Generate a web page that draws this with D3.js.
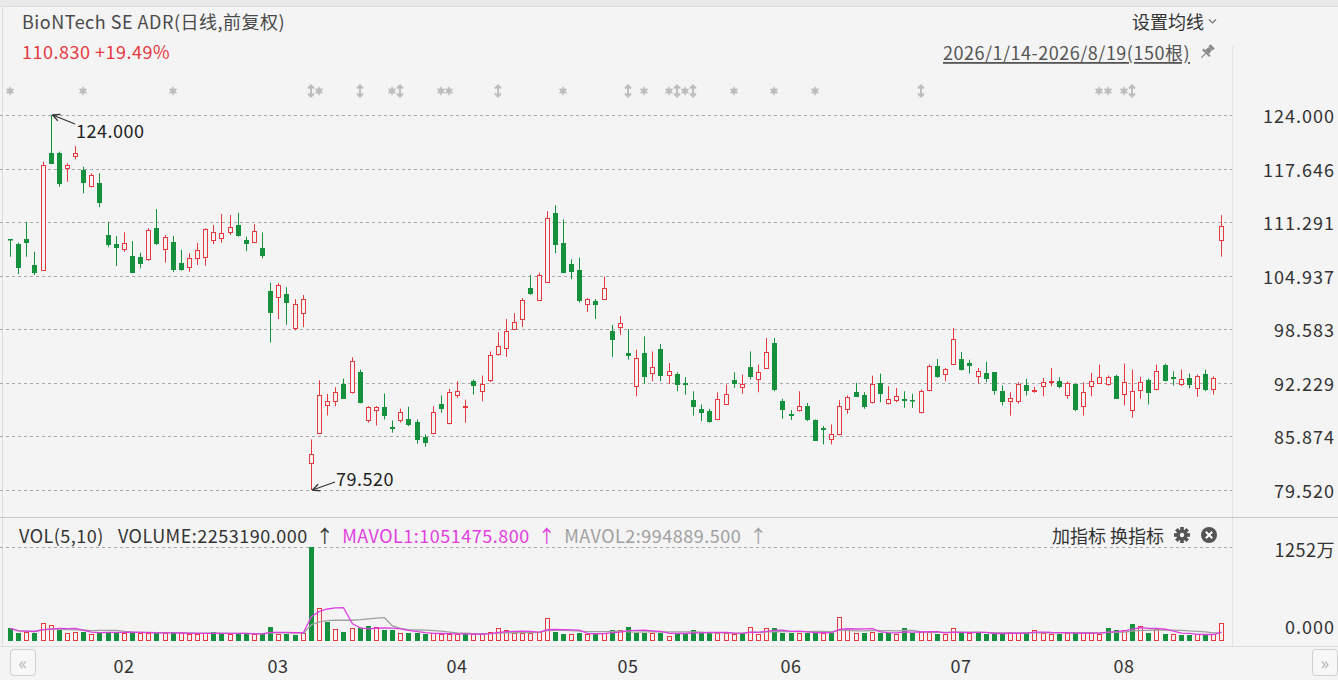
<!DOCTYPE html>
<html>
<head>
<meta charset="utf-8">
<script src="https://cdn.jsdelivr.net/npm/d3@7"></script>
<style>
html, body { margin: 0; padding: 0; background: #f4f4f4; }
svg { display: block; font-family: "Noto Sans CJK SC", "Noto Sans", sans-serif; }
svg text { letter-spacing: 0.5px; }
</style>
</head>
<body>
<svg id="chart" width="1338" height="680"></svg>
<script>
// daily bars, 2026/1/14 - 2026/8/19
var open = [109.30,108.70,109.26,106.21,105.61,119.53,119.53,117.75,119.14,117.48,
  115.58,115.97,109.77,108.70,108.10,107.31,107.19,106.88,110.56,108.10,
  108.97,106.41,106.00,107.07,107.11,109.17,109.37,110.09,110.95,109.17,
  108.96,108.18,103.17,102.46,102.78,98.73,100.50,82.77,86.32,89.66,
  90.05,92.11,91.12,93.48,87.81,89.00,89.34,86.98,87.81,87.89,
  87.57,85.84,86.32,89.78,87.50,90.73,89.36,92.42,91.23,92.62,
  95.69,96.36,98.65,99.79,103.53,102.07,104.24,112.40,108.85,106.30,
  105.62,101.60,101.99,102.19,98.41,98.85,95.77,91.83,95.77,93.41,
  96.25,93.21,93.33,92.25,90.25,89.15,88.87,87.89,89.78,92.53,
  91.75,94.12,92.70,94.00,96.95,90.05,88.50,88.95,89.54,87.77,
  86.83,85.61,86.20,89.15,91.12,90.73,89.93,92.23,89.86,90.25,
  90.32,90.25,88.75,91.43,94.27,93.29,94.47,95.06,94.59,93.09,
  93.41,93.48,91.32,90.05,90.05,92.03,91.23,91.83,92.30,92.42,
  90.73,92.11,89.46,91.91,92.25,92.11,93.09,90.93,88.95,91.43,
  92.62,91.52,94.31,92.95,92.11,92.82,91.64,93.29,91.52,109.17];
var high = [109.30,108.85,111.34,107.78,118.46,124.00,119.65,118.27,120.32,117.87,
  117.08,117.08,111.34,109.65,110.09,109.05,107.67,110.56,112.85,109.77,
  109.65,107.99,107.60,108.85,110.56,110.95,112.26,112.14,112.41,109.56,
  111.06,110.08,104.12,104.05,103.57,102.16,102.66,85.52,92.53,90.93,
  91.71,92.74,95.26,93.80,89.46,89.46,90.96,87.77,89.17,89.39,
  87.89,86.12,89.46,90.73,91.50,92.42,90.25,92.62,93.09,95.96,
  98.21,99.79,100.50,102.27,105.03,105.31,112.59,113.30,111.61,106.88,
  107.07,102.27,102.16,104.83,99.12,100.18,98.61,96.16,97.74,95.96,
  96.84,94.59,93.48,92.89,91.23,89.66,89.15,91.12,92.03,93.48,
  93.21,95.96,94.39,97.55,97.55,90.34,89.00,91.23,89.86,87.89,
  87.10,87.30,90.17,90.73,92.23,91.12,93.09,93.33,91.83,91.63,
  91.23,90.93,91.44,94.39,95.06,94.00,98.73,95.89,94.98,94.00,
  94.71,93.48,91.91,91.12,92.30,92.70,91.75,92.82,94.00,92.90,
  92.40,92.11,92.30,93.41,94.39,93.10,93.20,94.51,93.80,92.94,
  92.74,94.39,94.50,93.60,93.80,93.33,93.20,93.80,93.00,112.12];
var low = [107.19,105.14,107.19,105.02,105.50,118.20,115.50,116.09,118.75,114.71,
  115.40,113.05,108.31,106.09,107.78,105.41,105.81,106.70,108.58,106.48,
  105.37,105.53,105.41,106.21,106.13,108.70,108.85,109.77,109.57,107.84,
  108.85,107.00,97.03,99.79,99.12,98.45,98.85,79.52,86.12,88.36,
  89.46,90.34,90.96,89.80,87.50,87.18,87.89,86.32,87.50,87.10,
  85.02,84.66,86.12,88.68,87.30,90.45,87.50,90.84,90.05,92.30,
  95.45,95.30,98.53,98.85,102.67,102.00,104.12,107.60,105.23,104.52,
  101.75,100.62,99.79,102.16,95.30,97.94,94.98,90.64,92.11,92.42,
  92.42,92.11,91.23,90.84,88.36,87.69,87.50,87.81,89.58,91.64,
  90.93,92.62,91.12,93.88,91.23,87.97,87.81,88.83,87.69,85.33,
  84.93,84.93,86.00,88.56,90.57,89.15,89.78,89.93,89.66,89.93,
  89.27,89.27,88.60,91.23,92.82,92.42,94.39,93.69,93.33,92.14,
  92.30,90.84,89.54,88.34,89.78,90.73,91.05,90.64,91.83,91.60,
  90.34,88.87,88.36,90.64,92.14,91.90,90.34,89.54,88.09,90.34,
  89.66,91.35,92.40,91.90,91.83,91.55,90.57,91.23,90.84,107.19];
var close = [109.26,106.00,108.97,105.41,118.07,118.34,115.90,118.07,119.46,116.09,
  116.88,113.72,108.70,108.31,108.85,105.41,106.48,110.36,108.78,109.49,
  105.73,105.73,107.07,107.99,110.48,110.09,109.97,110.75,109.77,108.85,
  110.26,107.39,100.69,103.85,101.87,101.60,102.16,83.83,90.76,90.13,
  91.12,90.45,94.86,89.93,89.34,89.39,88.36,86.83,88.80,87.30,
  85.52,85.25,88.80,89.27,91.12,91.32,89.46,92.03,92.10,95.57,
  96.55,98.33,99.39,102.07,102.94,105.03,111.73,108.66,105.42,105.50,
  102.07,102.16,101.56,103.53,97.43,99.32,95.49,95.18,93.01,94.12,
  93.21,93.60,92.14,92.11,89.46,88.83,87.69,90.37,90.93,92.23,
  92.14,93.01,93.48,95.84,91.52,89.07,88.40,89.54,87.97,85.41,
  86.71,86.12,89.46,90.57,90.64,89.46,92.14,91.04,90.34,90.64,
  90.25,90.17,91.32,94.27,93.01,93.88,97.46,93.88,94.39,93.60,
  92.82,91.43,90.05,90.45,92.11,91.43,91.43,92.30,92.46,91.83,
  92.25,89.07,91.16,92.42,92.94,92.90,90.45,92.30,91.32,92.30,
  91.12,93.60,92.62,92.75,92.70,92.11,93.09,91.52,92.75,110.83];
var volume = [1550000,930000,1100000,1000000,2350000,2000000,1400000,930000,1100000,1100000,
  800000,1100000,1100000,1100000,1000000,930000,1000000,1000000,900000,900000,
  1000000,900000,800000,800000,900000,1100000,900000,800000,800000,850000,
  800000,850000,1780000,800000,850000,700000,900000,12520000,4300000,2450000,
  1450000,1100000,1550000,1550000,1900000,1800000,1400000,1400000,930000,930000,
  930000,800000,930000,800000,800000,800000,800000,800000,800000,1100000,
  1550000,1400000,930000,930000,930000,1100000,3000000,1100000,800000,800000,
  1000000,800000,800000,930000,1400000,1400000,1800000,1000000,1000000,1000000,
  930000,580000,930000,930000,1400000,930000,930000,1000000,930000,800000,
  800000,1800000,800000,1550000,1550000,1000000,930000,1000000,930000,1100000,
  930000,1000000,3150000,1400000,930000,1000000,1100000,1000000,930000,800000,
  1550000,1000000,1100000,1100000,800000,800000,1550000,930000,930000,930000,
  800000,800000,930000,1100000,930000,930000,1400000,1000000,800000,800000,
  930000,1100000,930000,930000,800000,1550000,1400000,1400000,2150000,1900000,
  950000,1450000,800000,800000,691516,700000,800000,700000,804189,2253190];

var monthLabels = ["02", "03", "04", "05", "06", "07", "08"];
var monthIndex = [14, 33, 55, 76, 96, 117, 137];

// event markers above the candles: s = news, a = split/dividend
var markerIndex = [0, 9, 20, 37, 38, 43, 47, 48, 53, 54, 60, 68, 76, 78, 81, 82, 83, 84, 89, 94, 99, 112, 134, 135, 137, 138];
var markerType = ["s","s","s","a","s","a","s","a","s","s","a","s","a","s","s","a","s","a","s","s","s","a","s","s","s","a"];

var stockName = "BioNTech SE ADR(日线,前复权)";
var startDate = "2026/1/14", endDate = "2026/8/19";

var RED = "#e5393f", GREEN = "#15903d", BG = "#f4f4f4";
var FS = 18;
var n = close.length;

var svg = d3.select("#chart");

svg.append("rect").attr("width", 1338).attr("height", 680).attr("fill", BG);
svg.append("rect").attr("width", 1338).attr("height", 6).attr("fill", "#e9e9e9");
svg.append("line").attr("x1", 0).attr("x2", 1338).attr("y1", 6.5).attr("y2", 6.5).attr("stroke", "#dcdcdc");
svg.append("line").attr("x1", 2.5).attr("x2", 2.5).attr("y1", 6).attr("y2", 646).attr("stroke", "#dedede");

var x = d3.scaleBand().domain(d3.range(n)).range([6, 1225.5]);
function cx(i) { return Math.round(x(i) + x.bandwidth() / 2); }

var lo = d3.min(low), hi = d3.max(high);
var y = d3.scaleLinear().domain([lo, hi]).range([490, 115]);
var maxVol = d3.max(volume);
var yv = d3.scaleLinear().domain([0, maxVol]).range([640, 547]);

// panel separators
svg.append("line").attr("x1", 1232.5).attr("x2", 1232.5).attr("y1", 46).attr("y2", 646).attr("stroke", "#e2e2e2");
svg.append("line").attr("x1", 0).attr("x2", 1338).attr("y1", 517.5).attr("y2", 517.5).attr("stroke", "#c8c8c8");
svg.append("line").attr("x1", 0).attr("x2", 1338).attr("y1", 646.5).attr("y2", 646.5).attr("stroke", "#e0e0e0");

// header
svg.append("text").attr("x", 22).attr("y", 21).attr("dominant-baseline", "central")
  .attr("font-size", FS).attr("fill", "#4a4a4a").text(stockName);
var pct = (close[n - 1] / close[n - 2] - 1) * 100;
svg.append("text").attr("x", 22).attr("y", 51).attr("dominant-baseline", "central")
  .attr("font-size", FS).attr("fill", RED)
  .text(close[n - 1].toFixed(3) + " " + (pct >= 0 ? "+" : "") + pct.toFixed(2) + "%");

svg.append("text").attr("x", 1204).attr("y", 21).attr("dominant-baseline", "central")
  .attr("text-anchor", "end").attr("font-size", FS).attr("fill", "#333")
  .style("letter-spacing", "0px").text("设置均线");
svg.append("path").attr("d", "M1209,19.5 L1212.5,23 L1216,19.5").attr("fill", "none")
  .attr("stroke", "#777").attr("stroke-width", 1.2);

svg.append("text").attr("x", 1190).attr("y", 52).attr("dominant-baseline", "central")
  .attr("text-anchor", "end").attr("font-size", FS).attr("fill", "#555")
  .attr("text-decoration", "underline")
  .text(startDate + "-" + endDate + "(" + n + "根)");

var pin = svg.append("g").attr("transform", "translate(1207,52) rotate(45)").attr("fill", "#8a8a8a");
pin.append("rect").attr("x", -3).attr("y", -8).attr("width", 6).attr("height", 3);
pin.append("path").attr("d", "M-2,-5 L2,-5 L3,0 L-3,0 Z");
pin.append("rect").attr("x", -5).attr("y", 0).attr("width", 10).attr("height", 2);
pin.append("line").attr("x1", 0).attr("x2", 0).attr("y1", 2).attr("y2", 8).attr("stroke", "#8a8a8a").attr("stroke-width", 1.3);

// event markers
var mk = svg.append("g").attr("stroke", "#bdbdbd").attr("fill", "#bdbdbd");
markerIndex.forEach(function(idx, k) {
  var g = mk.append("g").attr("transform", "translate(" + cx(idx) + ",91)");
  if (markerType[k] === "s") {
    g.append("path").attr("d", d3.symbol(d3.symbolAsterisk, 48)).attr("fill", "none").attr("stroke-width", 1.4);
    g.append("circle").attr("r", 2.8).attr("stroke", "none");
  } else {
    g.append("path").attr("d", "M0,-5.5 L0,5.5 M-3,-2.5 L0,-5.5 L3,-2.5 M-3,2.5 L0,5.5 L3,2.5")
      .attr("fill", "none").attr("stroke-width", 2);
  }
});

// price grid and axis
var priceTicks = d3.range(8).map(function(k) { return lo + k * (hi - lo) / 7; });
svg.append("g").selectAll("line").data(priceTicks).enter().append("line")
  .attr("x1", 0).attr("x2", 1232)
  .attr("y1", function(d) { return Math.round(y(d)) + 0.5; })
  .attr("y2", function(d) { return Math.round(y(d)) + 0.5; })
  .attr("stroke", "#a8a8a8").attr("stroke-dasharray", "3,3");
svg.append("g").selectAll("text").data(priceTicks).enter().append("text")
  .attr("x", 1335).attr("y", function(d) { return y(d); })
  .attr("dominant-baseline", "central").attr("text-anchor", "end")
  .attr("font-size", FS).attr("fill", "#333").style("letter-spacing", "1px")
  .text(function(d) { return d.toFixed(3); });

// candles
var candles = svg.append("g").selectAll("g").data(d3.range(n)).enter().append("g");
function isUp(i) { return close[i] >= open[i]; }
candles.append("line")
  .attr("x1", function(i) { return cx(i) + 0.5; })
  .attr("x2", function(i) { return cx(i) + 0.5; })
  .attr("y1", function(i) { return y(high[i]); })
  .attr("y2", function(i) { return y(low[i]); })
  .attr("stroke", function(i) { return isUp(i) ? RED : GREEN; })
  .attr("stroke-width", 1);
candles.append("rect")
  .attr("x", function(i) { return cx(i) - 1.5; })
  .attr("width", 4)
  .attr("y", function(i) { return Math.round(y(Math.max(open[i], close[i]))) + 0.5; })
  .attr("height", function(i) {
    return Math.max(0.5, Math.round(y(Math.min(open[i], close[i]))) - Math.round(y(Math.max(open[i], close[i]))));
  })
  .attr("fill", function(i) { return isUp(i) ? BG : GREEN; })
  .attr("stroke", function(i) { return isUp(i) ? RED : GREEN; })
  .attr("stroke-width", 1);

// high / low annotations
function annotate(idx, price, tx, ty, label) {
  var px = cx(idx) + 1.5, py = y(price);
  var g = svg.append("g").attr("stroke", "#333").attr("stroke-width", 1.3).attr("fill", "none");
  g.append("line").attr("x1", tx).attr("y1", ty).attr("x2", px).attr("y2", py);
  var a = Math.atan2(ty - py, tx - px);
  [-0.45, 0.45].forEach(function(s) {
    g.append("line").attr("x1", px).attr("y1", py)
      .attr("x2", px + 8 * Math.cos(a + s)).attr("y2", py + 8 * Math.sin(a + s));
  });
  svg.append("text").attr("x", tx + 1).attr("y", ty + (ty > py ? 6 : -4)).attr("dominant-baseline", "central")
    .attr("font-size", FS).attr("fill", "#222").text(label);
}
var hiIdx = d3.maxIndex(high), loIdx = d3.minIndex(low);
annotate(hiIdx, hi, cx(hiIdx) + 24, y(hi) + 9, hi.toFixed(3));
annotate(loIdx, lo, cx(loIdx) + 24, y(lo) - 8, lo.toFixed(3));

// volume panel
function movingAvg(len) {
  return volume.map(function(v, i) { return d3.mean(volume.slice(Math.max(0, i - len + 1), i + 1)); });
}
var ma5 = movingAvg(5), ma10 = movingAvg(10);

var hdr = svg.append("g").attr("font-size", FS);
var hx = 19;
[["VOL(5,10)", "#333", 14], ["VOLUME:" + volume[n - 1].toFixed(3), "#333", 8], ["↑", "#333", 8],
 ["MAVOL1:" + ma5[n - 1].toFixed(3), "#e03ee0", 8], ["↑", "#e03ee0", 8],
 ["MAVOL2:" + ma10[n - 1].toFixed(3), "#a0a0a0", 8], ["↑", "#a0a0a0", 8]].forEach(function(p) {
  var t = hdr.append("text").attr("x", hx).attr("y", 535).attr("dominant-baseline", "central")
    .attr("fill", p[1]).text(p[0]);
  hx += t.node().getComputedTextLength() + p[2];
});

svg.append("text").attr("x", 1164).attr("y", 535).attr("dominant-baseline", "central")
  .attr("text-anchor", "end").attr("font-size", FS).attr("fill", "#333")
  .style("letter-spacing", "0px").text("加指标 换指标");
var gear = svg.append("g").attr("transform", "translate(1182,535)").attr("fill", "#555");
d3.range(4).forEach(function(k) {
  gear.append("rect").attr("x", -1.8).attr("y", -8).attr("width", 3.6).attr("height", 16)
    .attr("transform", "rotate(" + (k * 45) + ")");
});
gear.append("circle").attr("r", 5.6);
gear.append("circle").attr("r", 2.2).attr("fill", BG);
var closeBtn = svg.append("g").attr("transform", "translate(1209,535)");
closeBtn.append("circle").attr("r", 8).attr("fill", "#555");
closeBtn.append("path").attr("d", "M-3.2,-3.2 L3.2,3.2 M3.2,-3.2 L-3.2,3.2")
  .attr("stroke", "#fff").attr("stroke-width", 2);

svg.append("line").attr("x1", 0).attr("x2", 1232).attr("y1", 547.5).attr("y2", 547.5)
  .attr("stroke", "#a8a8a8").attr("stroke-dasharray", "3,3");
svg.append("text").attr("x", 1335).attr("y", 549).attr("dominant-baseline", "central")
  .attr("text-anchor", "end").attr("font-size", FS).attr("fill", "#333")
  .text(Math.round(maxVol / 1e4) + "万");
svg.append("text").attr("x", 1335).attr("y", 626).attr("dominant-baseline", "central")
  .attr("text-anchor", "end").attr("font-size", FS).attr("fill", "#333").style("letter-spacing", "1px").text("0.000");

function volUp(i) { return i === 0 ? close[i] >= open[i] : close[i] >= close[i - 1]; }
svg.append("g").selectAll("rect").data(d3.range(n)).enter().append("rect")
  .attr("x", function(i) { return cx(i) - 1.5; })
  .attr("width", 4)
  .attr("y", function(i) { return Math.round(yv(volume[i])) + 0.5; })
  .attr("height", function(i) { return Math.max(1, 640 - Math.round(yv(volume[i]))); })
  .attr("fill", function(i) { return volUp(i) ? BG : GREEN; })
  .attr("stroke", function(i) { return volUp(i) ? RED : GREEN; });

var volLine = d3.line().x(function(d, i) { return cx(i) + 0.5; }).y(function(d) { return yv(d); });
svg.append("path").datum(ma10).attr("d", volLine).attr("fill", "none")
  .attr("stroke", "#a0a0a0").attr("stroke-width", 1.3);
svg.append("path").datum(ma5).attr("d", volLine).attr("fill", "none")
  .attr("stroke", "#e03ee0").attr("stroke-width", 1.3);

// time axis
svg.append("g").selectAll("text").data(monthLabels).enter().append("text")
  .attr("x", function(d, k) { return cx(monthIndex[k]); })
  .attr("y", 665).attr("dominant-baseline", "central").attr("text-anchor", "middle")
  .attr("font-size", FS).attr("fill", "#333").text(function(d) { return d; });

[[10, "«"], [1312, "»"]].forEach(function(b) {
  svg.append("rect").attr("x", b[0] + 0.5).attr("y", 649.5).attr("width", 25).attr("height", 26)
    .attr("rx", 3).attr("fill", "#f7f7f7").attr("stroke", "#cfcfcf");
  svg.append("text").attr("x", b[0] + 13).attr("y", 662).attr("dominant-baseline", "central")
    .attr("text-anchor", "middle").attr("font-size", 18).attr("fill", "#b5b5b5").text(b[1]);
});
</script>
</body>
</html>
